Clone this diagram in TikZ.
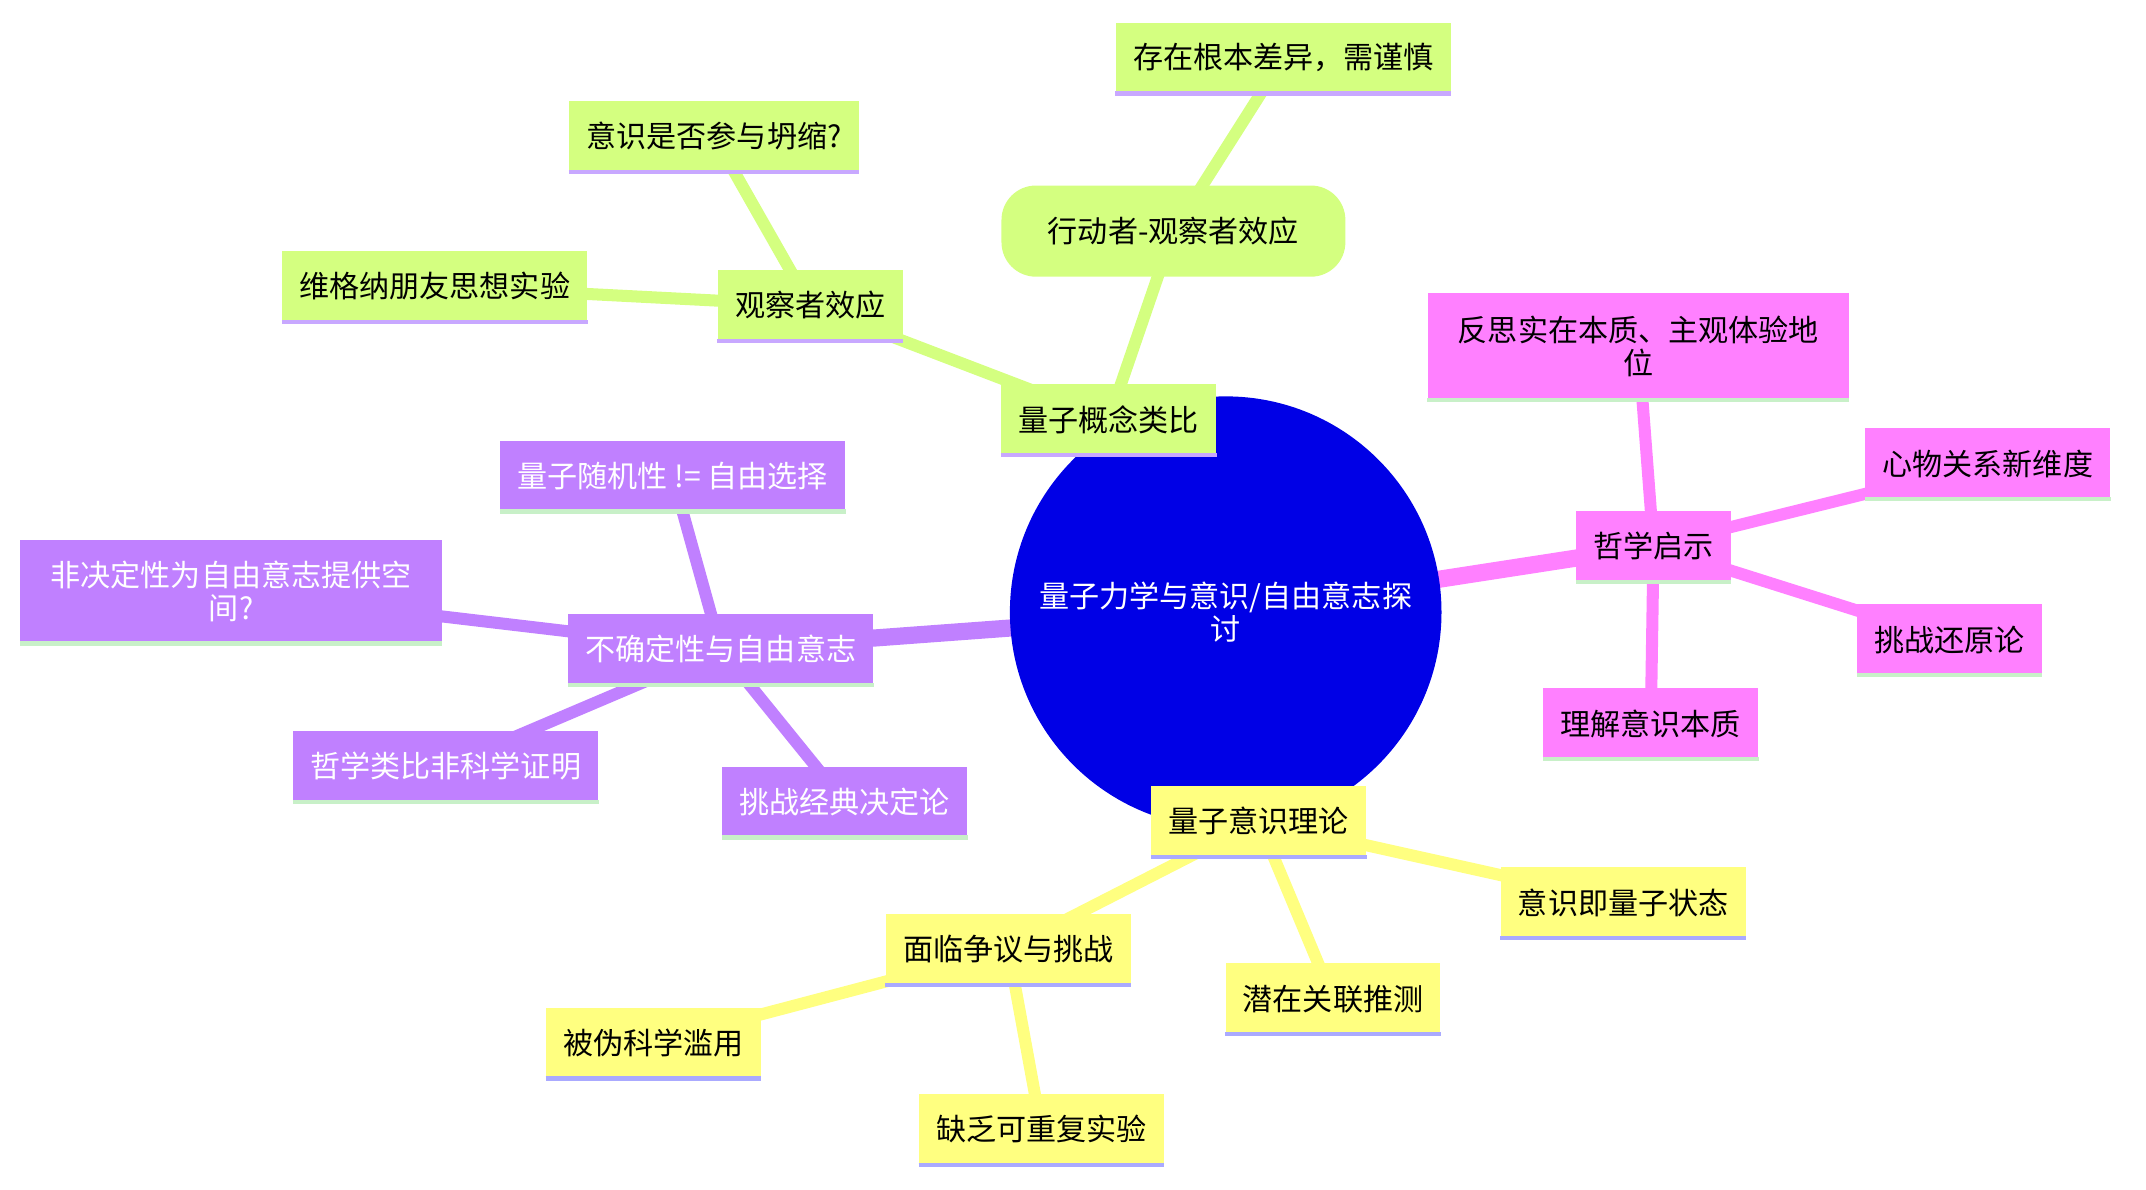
\documentclass[tikz,border=0pt]{standalone}
\usepackage{fontspec}
\setmainfont{Noto Sans CJK SC}
\usetikzlibrary{backgrounds}
\definecolor{cg}{RGB}{212,255,128}
\definecolor{cp}{RGB}{255,128,255}
\definecolor{cy}{RGB}{255,255,128}
\definecolor{cv}{RGB}{192,128,255}
\definecolor{ug}{RGB}{200,168,255}
\definecolor{up}{RGB}{200,240,200}
\definecolor{uy}{RGB}{170,170,255}
\definecolor{root}{RGB}{0,0,230}
\tikzset{
 box/.style={rectangle,fill=#1,minimum height=41pt,inner xsep=10pt,font=\fontsize{17.5}{19}\selectfont,align=center},
 ul/.style={append after command={(\tikzlastnode.south west) edge[draw=#1,line width=2.5pt] (\tikzlastnode.south east)}},
 gbox/.style={box=cg,ul=ug},
 pbox/.style={box=cp,ul=up},
 ybox/.style={box=cy,ul=uy},
 vbox/.style={box=cv,ul=up,text=white},
 e1/.style={line width=10pt,draw=#1},
 e2/.style={line width=7pt,draw=#1},
}
\begin{document}
\begin{tikzpicture}[x=0.8pt,y=-0.8pt]
\useasboundingbox (0,0) rectangle (1560,865);
\node[circle,fill=root,minimum size=251pt,inner sep=0pt,text=white,font=\fontsize{17.5}{19}\selectfont,align=center] (r) at (891,445) {量子力学与意识/自由意志探\\讨};
% green
\node[gbox] (g) at (806,305) {量子概念类比};
\node[gbox] (g1) at (589,222) {观察者效应};
\node[gbox] (g11) at (316,208) {维格纳朋友思想实验};
\node[gbox] (g12) at (519,99) {意识是否参与坍缩?};
\node[box=cg,rounded corners=20pt,minimum height=53pt,minimum width=200pt] (g2) at (853,168) {行动者-观察者效应};
\node[gbox] (g21) at (933,42) {存在根本差异，需谨慎};
% pink
\node[pbox,text width=225pt,minimum height=62pt] (p1) at (1191,252) {反思实在本质、主观体验地\\位};
\node[pbox] (p) at (1202,397) {哲学启示};
\node[pbox] (p2) at (1445,337) {心物关系新维度};
\node[pbox] (p3) at (1417,465) {挑战还原论};
\node[pbox] (p4) at (1200,526) {理解意识本质};
% yellow
\node[ybox] (y) at (915,597) {量子意识理论};
\node[ybox] (y1) at (1180,656) {意识即量子状态};
\node[ybox] (y2) at (969,726) {潜在关联推测};
\node[ybox] (y3) at (733,690) {面临争议与挑战};
\node[ybox] (y31) at (475,758) {被伪科学滥用};
\node[ybox] (y32) at (757,821) {缺乏可重复实验};
% violet
\node[vbox] (v) at (524,472) {不确定性与自由意志};
\node[vbox] (v1) at (489,346) {量子随机性 != 自由选择};
\node[vbox,text width=225pt,minimum height=60pt] (v2) at (168,430) {非决定性为自由意志提供空\\间?};
\node[vbox] (v3) at (324,557) {哲学类比非科学证明};
\node[vbox] (v4) at (614,583) {挑战经典决定论};
\begin{scope}[on background layer]
\draw[e1=cg] (r.center) -- (g.center);
\draw[e2=cg] (g.center) -- (g1.center);
\draw[e2=cg] (g.center) -- (g2.center);
\draw[e2=cg] (g1.center) -- (g11.center);
\draw[e2=cg] (g1.center) -- (g12.center);
\draw[e2=cg] (g2.center) -- (g21.center);
\draw[e1=cp] (r.center) -- (p.center);
\foreach \n in {p1,p2,p3,p4} \draw[e2=cp] (p.center) -- (\n.center);
\draw[e1=cy] (r.center) -- (y.center);
\foreach \n in {y1,y2,y3} \draw[e2=cy] (y.center) -- (\n.center);
\foreach \n in {y31,y32} \draw[e2=cy] (y3.center) -- (\n.center);
\draw[e1=cv] (r.center) -- (v.center);
\foreach \n in {v1,v2,v3,v4} \draw[e2=cv] (v.center) -- (\n.center);
\end{scope}
\end{tikzpicture}
\end{document}
